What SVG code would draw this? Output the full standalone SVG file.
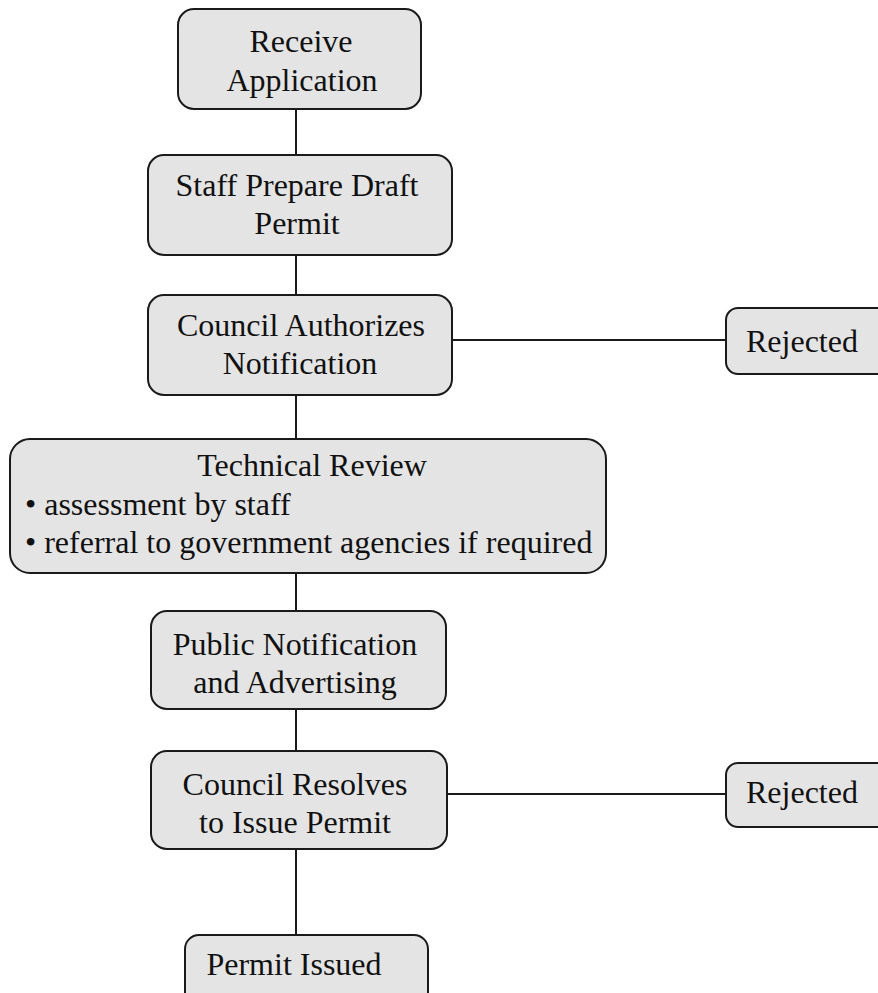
<svg xmlns="http://www.w3.org/2000/svg" width="878" height="993" viewBox="0 0 878 993">
  <style>
    .box { fill: #e4e4e4; stroke: #1a1a1a; stroke-width: 2; }
    .lbl { font-family: "Liberation Serif", "Times New Roman", serif; font-size: 32px; fill: #111; text-anchor: middle; }
    .lft { text-anchor: start; }
    .wire { stroke: #1a1a1a; stroke-width: 2; fill: none; }
  </style>
  <rect width="878" height="993" fill="#ffffff"/>

  <!-- connectors -->
  <g id="connectors">
    <line class="wire" x1="296" y1="109" x2="296" y2="155"/>
    <line class="wire" x1="296" y1="255" x2="296" y2="295"/>
    <line class="wire" x1="296" y1="395" x2="296" y2="439"/>
    <line class="wire" x1="296" y1="573" x2="296" y2="611"/>
    <line class="wire" x1="296" y1="709" x2="296" y2="751"/>
    <line class="wire" x1="296" y1="849" x2="296" y2="935"/>
    <line class="wire" x1="452" y1="340" x2="726" y2="340"/>
    <line class="wire" x1="447" y1="794" x2="726" y2="794"/>
  </g>

  <g id="receive-application">
    <rect class="box" x="178" y="9" width="243" height="100" rx="16"/>
    <text class="lbl" x="301" y="52">Receive</text>
    <text class="lbl" x="302" y="91">Application</text>
  </g>

  <g id="staff-prepare-draft-permit">
    <rect class="box" x="148" y="155" width="304" height="100" rx="16"/>
    <text class="lbl" x="297" y="196">Staff Prepare Draft</text>
    <text class="lbl" x="297" y="234">Permit</text>
  </g>

  <g id="council-authorizes-notification">
    <rect class="box" x="148" y="295" width="304" height="100" rx="16"/>
    <text class="lbl" x="301" y="336">Council Authorizes</text>
    <text class="lbl" x="300" y="374">Notification</text>
  </g>

  <g id="rejected-1">
    <rect class="box" x="726" y="308" width="170" height="66" rx="12"/>
    <text class="lbl lft" x="746" y="352">Rejected</text>
  </g>

  <g id="technical-review">
    <rect class="box" x="10" y="439" width="596" height="134" rx="20"/>
    <text class="lbl" x="312" y="476">Technical Review</text>
    <text class="lbl lft" x="25" y="515">• assessment by staff</text>
    <text class="lbl lft" x="25" y="553">• referral to government agencies if required</text>
  </g>

  <g id="public-notification">
    <rect class="box" x="151" y="611" width="295" height="98" rx="16"/>
    <text class="lbl" x="295" y="655">Public Notification</text>
    <text class="lbl" x="295" y="693">and Advertising</text>
  </g>

  <g id="council-resolves">
    <rect class="box" x="151" y="751" width="296" height="98" rx="16"/>
    <text class="lbl" x="295" y="795">Council Resolves</text>
    <text class="lbl" x="295" y="833">to Issue Permit</text>
  </g>

  <g id="rejected-2">
    <rect class="box" x="726" y="763" width="170" height="64" rx="12"/>
    <text class="lbl lft" x="746" y="803">Rejected</text>
  </g>

  <g id="permit-issued">
    <rect class="box" x="185" y="935" width="243" height="75" rx="14"/>
    <text class="lbl" x="294" y="975">Permit Issued</text>
  </g>
</svg>
